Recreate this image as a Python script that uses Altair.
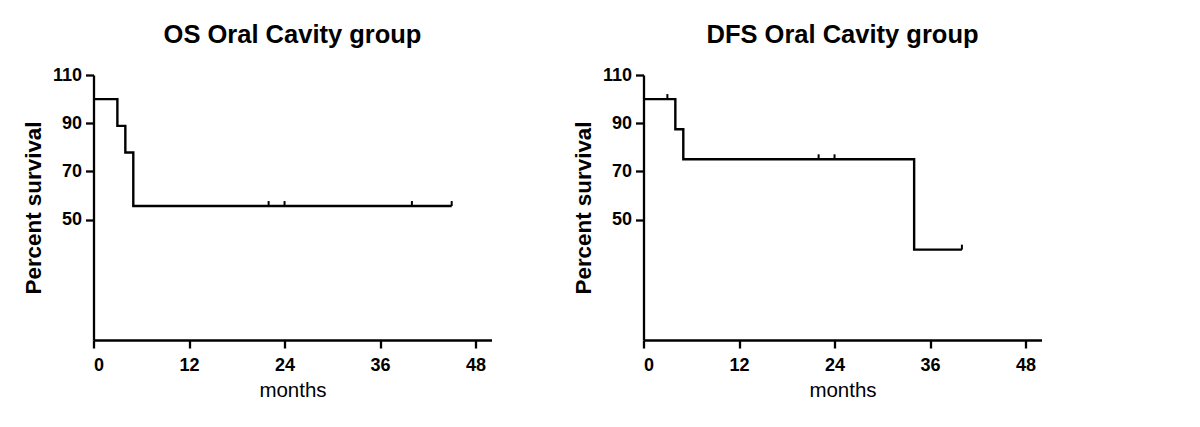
import altair as alt
import pandas as pd

# Kaplan-Meier step data (months, percent survival)
os_time = [0, 3, 4, 5, 45]
os_surv = [100, 88.9, 77.8, 55.6, 55.6]
os_cens_time = [22, 24, 40, 45]
os_cens_surv = [55.6, 55.6, 55.6, 55.6]

dfs_time = [0, 4, 5, 34, 40]
dfs_surv = [100, 87.5, 75, 37.5, 37.5]
dfs_cens_time = [3, 22, 24, 40]
dfs_cens_surv = [100, 75, 75, 37.5]

titles = ["OS Oral Cavity group", "DFS Oral Cavity group"]
x_ticks = [0, 12, 24, 36, 48]
y_ticks = [50, 70, 90, 110]

FONT = "Liberation Sans"


def panel(title, t, s, ct, cs):
    steps = pd.DataFrame({"months": t, "surv": s})
    cens = pd.DataFrame({"months": ct, "surv": cs})
    x = alt.X(
        "months:Q",
        scale=alt.Scale(domain=[0, 50], nice=False, zero=True),
        axis=alt.Axis(values=x_ticks, title="months", titleFontWeight="normal",
                      titleFontSize=20.5, titlePadding=6, labelPadding=8),
    )
    y = alt.Y(
        "surv:Q",
        scale=alt.Scale(domain=[0, 110], nice=False),
        axis=alt.Axis(values=y_ticks, title="Percent survival", titleFontWeight="bold",
                      titleFontSize=22.4, titlePadding=7, labelPadding=4),
    )
    line = alt.Chart(steps).mark_line(
        interpolate="step-after", color="black", strokeWidth=2.4
    ).encode(x=x, y=y)
    ticks = alt.Chart(cens).mark_rule(
        color="black", strokeWidth=2, y2Offset=-5
    ).encode(x="months:Q", y="surv:Q", y2=alt.Y2("surv:Q"))
    return alt.layer(line, ticks).properties(
        width=398,
        height=265,
        title=alt.TitleParams(title, fontSize=25.5, fontWeight="bold", font=FONT,
                              color="black", offset=18, anchor="middle"),
    )


left = panel(titles[0], os_time, os_surv, os_cens_time, os_cens_surv)
right = panel(titles[1], dfs_time, dfs_surv, dfs_cens_time, dfs_cens_surv)

chart = alt.hconcat(left, right, spacing=80).properties(
    padding={"left": 13.5, "top": 14, "right": 5, "bottom": 5},
    background="white",
).configure_view(stroke=None).configure_axis(
    grid=False,
    domainColor="black",
    domainWidth=2.3,
    tickColor="black",
    tickWidth=2.3,
    tickSize=8,
    labelFont=FONT,
    labelFontSize=18,
    labelFontWeight="bold",
    labelColor="black",
    titleFont=FONT,
    titleColor="black",
)

chart.save("out.html", embed_options={"renderer": "svg", "actions": False})
